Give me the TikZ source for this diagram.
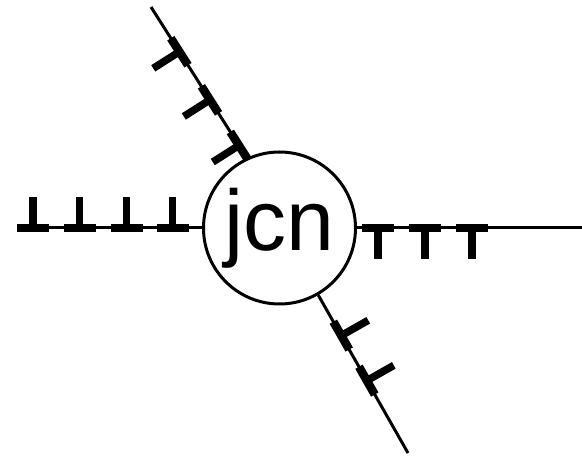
\documentclass[tikz,border=0pt]{standalone}
\usepackage{fontspec}
\setmainfont{Liberation Sans}
\usetikzlibrary{calc}
\tikzset{
  wire/.style={line width=3pt},
  markbar/.style={line width=8.5pt},
  markstem/.style={line width=7.5pt},
  jcnnode/.style={draw, circle, line width=3pt, minimum size=152pt, inner sep=0pt,
    font=\fontsize{86}{86}\selectfont}
}
% #1 start, #2 end of the line, #3 distance (pt) from start, #4 stem angle
\newcommand{\tmark}[4]{%
  \draw[markbar] ($(#1)!#3pt-16pt!(#2)$) -- ($(#1)!#3pt+16pt!(#2)$);
  \draw[markstem] ($(#1)!#3pt!(#2)$) -- ($($(#1)!#3pt!(#2)$)!31pt!#4:(#2)$);
}
\begin{document}
\begin{tikzpicture}[x=1pt,y=1pt]
\useasboundingbox (0,0) rectangle (582,458);
\node[jcnnode] (c) at (279.5,230) {jcn};
\coordinate (lt) at (17,230);
\coordinate (rt) at (582,230);
\coordinate (ul) at (151,451);
\coordinate (lr) at (408,5);
\coordinate (ulc) at (c.115.3);
\coordinate (lrc) at (c.-60.1);
\draw[wire] (lt) -- (c.west);
\draw[wire] (c.east) -- (rt);
\draw[wire] (ul) -- (ulc);
\draw[wire] (lrc) -- (lr);
% left
\tmark{lt}{c.west}{16}{90}
\tmark{lt}{c.west}{62.5}{90}
\tmark{lt}{c.west}{109.5}{90}
\tmark{lt}{c.west}{155.5}{90}
% right
\tmark{c.east}{rt}{21}{-90}
\tmark{c.east}{rt}{68}{-90}
\tmark{c.east}{rt}{115}{-90}
% upper left
\tmark{ul}{ulc}{53}{-90}
\tmark{ul}{ulc}{110}{-90}
\tmark{ul}{ulc}{164}{-90}
% lower right
\tmark{lrc}{lr}{46.6}{90}
\tmark{lrc}{lr}{98.4}{90}
\end{tikzpicture}
\end{document}
